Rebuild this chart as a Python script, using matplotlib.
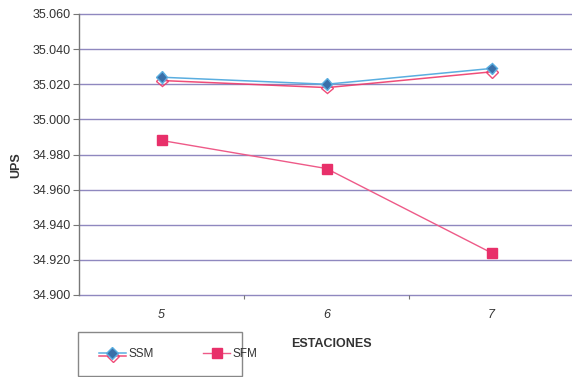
import matplotlib
matplotlib.use("Agg")
import matplotlib.pyplot as plt
import matplotlib.patheffects as pe
from matplotlib.patches import Rectangle

plt.rcParams['font.family'] = ['Liberation Sans', 'DejaVu Sans']

stations = ["5", "6", "7"]
ssm = [35.024, 35.020, 35.029]
sfm = [34.988, 34.972, 34.924]
y_ticks = [34.900, 34.920, 34.940, 34.960, 34.980, 35.000, 35.020, 35.040, 35.060]
y_tick_labels = ["34.900", "34.920", "34.940", "34.960", "34.980",
                 "35.000", "35.020", "35.040", "35.060"]

W, H = 572, 377
fig = plt.figure(figsize=(W / 100, H / 100), dpi=100)
fig.patch.set_facecolor('white')

# axes box in pixel coordinates
left, right, top, bottom = 79, 574, 14, 295
ax = fig.add_axes([left / W, 1 - bottom / H, (right - left) / W, (bottom - top) / H])
ax.set_facecolor('white')

x = list(range(len(stations)))
ax.set_xlim(-0.5, len(stations) - 0.5)
ax.set_ylim(34.900, 35.060)

# horizontal grid lines
for yv in y_ticks:
    ax.axhline(yv, color='#8f88bf', lw=1.0, zorder=1, clip_on=False)

ssm_line, = ax.plot(x, ssm, color='#5aaee0', lw=1.1, marker='D', markersize=6,
                    markerfacecolor='#3a6fa8', markeredgecolor='#5aaee0', zorder=4,
                    path_effects=[pe.SimpleLineShadow(offset=(0.5, -2.4), shadow_color='#ee3a6a', alpha=0.9),
                                  pe.Normal()])
sfm_line, = ax.plot(x, sfm, color='#ee5a88', lw=1.0, marker='s', markersize=7,
                    markerfacecolor='#e8306a', markeredgecolor='#e8306a', zorder=4)

ax.set_yticks(y_ticks)
ax.set_yticklabels(y_tick_labels, fontsize=9, color='#333333')
ax.set_xticks([0.5, 1.5])
ax.set_xticklabels([])
ax.set_xticks(x, minor=True)
ax.set_xticklabels(stations, minor=True, fontsize=9, color='#333333', style='italic')
ax.tick_params(axis='x', which='minor', length=0, pad=10)
ax.tick_params(axis='x', which='major', length=3, color='#777777', direction='out')
ax.tick_params(axis='y', length=4, color='#777777', direction='out', pad=2)

for s in ['top', 'right']:
    ax.spines[s].set_visible(False)
ax.spines['bottom'].set_visible(False)
ax.spines['left'].set_color('#777777')
ax.spines['left'].set_linewidth(1.0)

fig.text(16 / W, 1 - 165 / H, "UPS", rotation=90, fontsize=9, fontweight='bold',
         color='#333333', ha='center', va='center')
fig.text(331 / W, 1 - 344 / H, "ESTACIONES", fontsize=9, fontweight='bold',
         color='#333333', ha='center', va='center')

# legend frame
frame = Rectangle((78 / W, 1 - 376 / H), (242 - 78) / W, (376 - 332) / H,
                  transform=fig.transFigure, facecolor='white', edgecolor='#888888',
                  lw=1.0, zorder=5)
fig.patches.append(frame)
leg = fig.legend([ssm_line, sfm_line], ["SSM", "SFM"], ncol=2, frameon=False,
                 loc='center left', bbox_to_anchor=(88 / W, 1 - 354 / H),
                 fontsize=8.5, handlelength=2.3, handletextpad=0.2, columnspacing=4.2,
                 labelcolor='#333333')
leg.set_zorder(6)

fig.savefig("out.png", dpi=100, facecolor='white')
